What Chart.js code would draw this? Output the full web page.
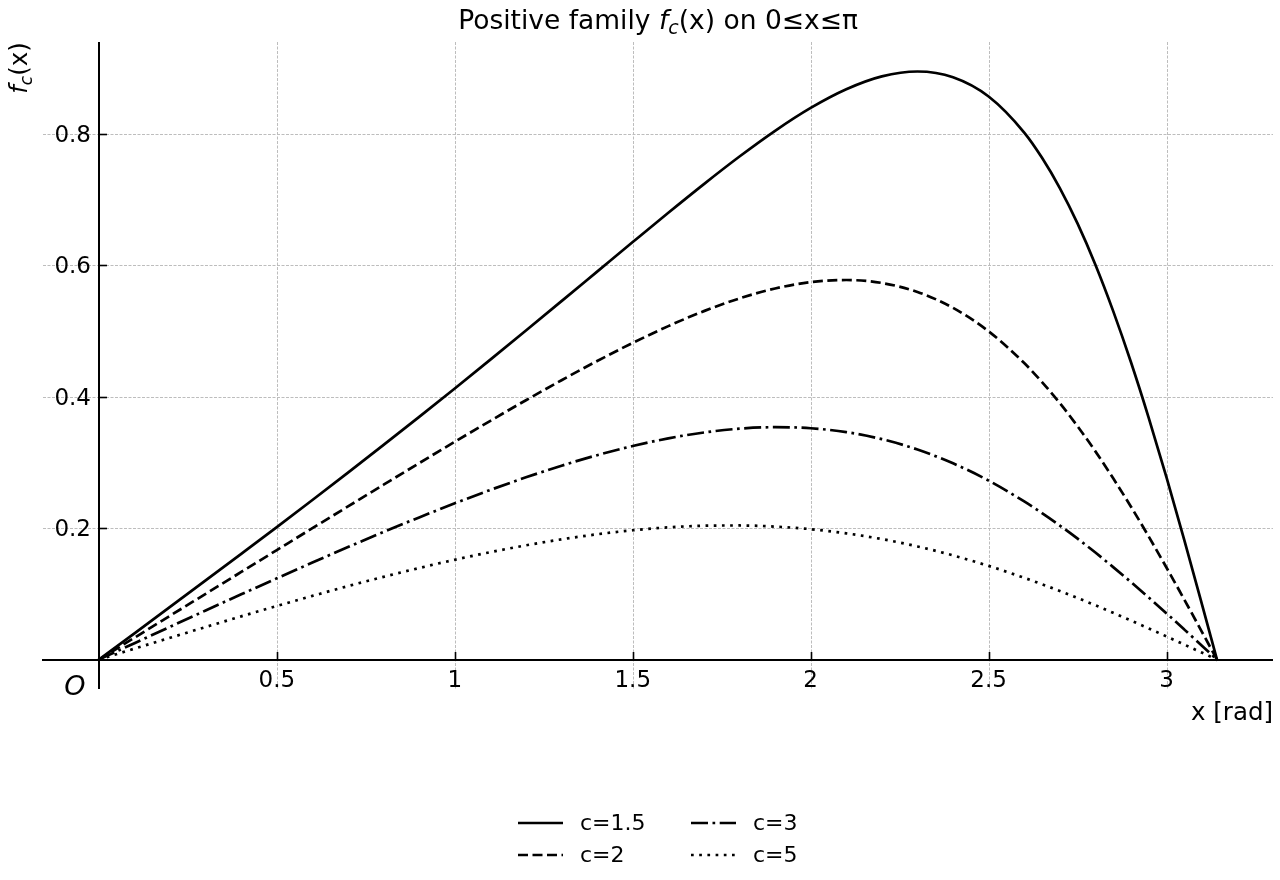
<!DOCTYPE html>
<html>
<head>
<meta charset="utf-8">
<script src="https://cdn.jsdelivr.net/npm/chart.js@4/dist/chart.umd.min.js"></script>
<style>
html,body{margin:0;padding:0;background:#fff;}
#wrap{width:1280px;height:880px;position:relative;}
</style>
</head>
<body>
<div id="wrap"><canvas id="c" width="1280" height="880"></canvas></div>
<script>
// ---- data ----
const xValues = [0,0.1,0.2,0.3,0.4,0.5,0.6,0.7,0.8,0.9,1.0,1.1,1.2,1.3,1.4,1.5,1.6,1.7,1.8,1.9,2.0,2.1,2.2,2.3,2.4,2.5,2.6,2.65,2.7,2.75,2.8,2.85,2.9,2.95,3.0,3.05,3.1,3.14159];
const seriesC15 = [0,0.0400,0.0801,0.1204,0.1609,0.2016,0.2428,0.2844,0.3266,0.3692,0.4124,0.4562,0.5005,0.5452,0.5901,0.6350,0.6796,0.7232,0.7651,0.8042,0.8390,0.8674,0.8870,0.8944,0.8857,0.8564,0.8016,0.7632,0.7172,0.6630,0.6006,0.5300,0.4522,0.3674,0.2767,0.1814,0.0830,0];
const seriesC2  = [0,0.0333,0.0667,0.1000,0.1333,0.1666,0.1999,0.2330,0.2660,0.2988,0.3313,0.3632,0.3945,0.4249,0.4541,0.4817,0.5072,0.5300,0.5493,0.5644,0.5741,0.5773,0.5728,0.5591,0.5350,0.4992,0.4510,0.4220,0.3900,0.3548,0.3167,0.2757,0.2325,0.1870,0.1397,0.0911,0.0415,0];
const seriesC3  = [0,0.0250,0.0499,0.0747,0.0993,0.1236,0.1476,0.1711,0.1941,0.2163,0.2377,0.2581,0.2772,0.2949,0.3109,0.3248,0.3365,0.3454,0.3512,0.3535,0.3519,0.3460,0.3353,0.3195,0.2985,0.2722,0.2405,0.2228,0.2039,0.1839,0.1628,0.1407,0.1179,0.0944,0.0702,0.0456,0.0208,0];
const seriesC5  = [0,0.0167,0.0332,0.0496,0.0658,0.0816,0.0969,0.1118,0.1259,0.1393,0.1519,0.1634,0.1738,0.1829,0.1906,0.1967,0.2011,0.2036,0.2040,0.2023,0.1984,0.1920,0.1833,0.1721,0.1585,0.1425,0.1244,0.1146,0.1043,0.0936,0.0826,0.0711,0.0594,0.0474,0.0352,0.0228,0.0104,0];
const seriesNames = ['c=1.5','c=2','c=3','c=5'];
const xTickValues = [0.5,1,1.5,2,2.5,3];
const xTickLabels = ['0.5','1','1.5','2','2.5','3'];
const yTickValues = [0.2,0.4,0.6,0.8];
const yTickLabels = ['0.2','0.4','0.6','0.8'];

// ---- styles ----
const LW = 2.7;
const dashes = [[], [10,4.5], [17,4.5,2.7,4.5], [2.7,5.5]];
const allSeries = [seriesC15, seriesC2, seriesC3, seriesC5];
const FONT = '"DejaVu Sans", sans-serif';

const datasets = allSeries.map((s, i) => ({
  label: seriesNames[i],
  data: xValues.map((x, k) => ({x: x, y: s[k]})),
  borderColor: '#000',
  backgroundColor: '#000',
  borderWidth: LW,
  borderDash: dashes[i],
  borderCapStyle: i === 0 ? 'square' : 'butt',
  borderJoinStyle: 'round',
  pointRadius: 0,
  showLine: true,
  fill: false,
  cubicInterpolationMode: 'monotone'
}));

function richWidth(ctx, parts) {
  let w = 0;
  for (const p of parts) { ctx.font = p.font; w += ctx.measureText(p.t).width; }
  return w;
}
function drawRich(ctx, parts, x, y) {
  let cx = x;
  for (const p of parts) {
    ctx.font = p.font;
    ctx.fillText(p.t, cx, y + (p.dy || 0));
    cx += ctx.measureText(p.t).width;
  }
}

const decor = {
  id: 'decor',
  beforeDatasetsDraw(chart) {
    const ctx = chart.ctx, xs = chart.scales.x, ys = chart.scales.y, a = chart.chartArea;
    ctx.save();
    ctx.strokeStyle = '#bdbdbd';
    ctx.lineWidth = 1;
    ctx.setLineDash([3, 1.5]);
    for (const v of xTickValues) {
      const px = Math.round(xs.getPixelForValue(v)) + 0.5;
      ctx.beginPath(); ctx.moveTo(px, a.top); ctx.lineTo(px, a.bottom); ctx.stroke();
    }
    for (const v of yTickValues) {
      const py = Math.round(ys.getPixelForValue(v)) + 0.5;
      ctx.beginPath(); ctx.moveTo(a.left, py); ctx.lineTo(a.right, py); ctx.stroke();
    }
    ctx.restore();
  },
  afterDatasetsDraw(chart) {
    const ctx = chart.ctx, xs = chart.scales.x, ys = chart.scales.y, a = chart.chartArea;
    const x0 = Math.round(xs.getPixelForValue(0));
    const y0 = Math.round(ys.getPixelForValue(0));
    ctx.save();
    ctx.setLineDash([]);
    ctx.strokeStyle = '#000';
    ctx.fillStyle = '#000';
    // spines
    ctx.lineWidth = 2;
    ctx.beginPath(); ctx.moveTo(x0, a.top); ctx.lineTo(x0, a.bottom); ctx.stroke();
    ctx.beginPath(); ctx.moveTo(a.left - 1, y0); ctx.lineTo(a.right, y0); ctx.stroke();
    // ticks (inward)
    ctx.lineWidth = 1.6;
    for (const v of xTickValues) {
      const px = Math.round(xs.getPixelForValue(v)) + 0.5;
      ctx.beginPath(); ctx.moveTo(px, y0); ctx.lineTo(px, y0 - 8); ctx.stroke();
    }
    for (const v of yTickValues) {
      const py = Math.round(ys.getPixelForValue(v)) + 0.5;
      ctx.beginPath(); ctx.moveTo(x0, py); ctx.lineTo(x0 + 8, py); ctx.stroke();
    }
    // tick labels
    ctx.font = '23px ' + FONT;
    ctx.textBaseline = 'alphabetic';
    ctx.textAlign = 'center';
    xTickValues.forEach((v, i) => {
      ctx.fillText(xTickLabels[i], xs.getPixelForValue(v), y0 + 27);
    });
    ctx.textAlign = 'right';
    yTickValues.forEach((v, i) => {
      ctx.fillText(yTickLabels[i], x0 - 8, ys.getPixelForValue(v) + 8);
    });
    // origin label
    ctx.textAlign = 'center';
    ctx.font = 'italic 27px ' + FONT;
    ctx.fillText('O', x0 - 24, y0 + 35);
    // x label
    ctx.textAlign = 'right';
    ctx.font = '24.5px ' + FONT;
    ctx.fillText('x [rad]', a.right, y0 + 60);
    // y label (rotated)
    ctx.textAlign = 'left';
    const yl = [
      {t: 'f', font: 'italic 24.5px ' + FONT},
      {t: 'c', font: 'italic 17px ' + FONT, dy: 5},
      {t: '(x)', font: '24.5px ' + FONT}
    ];
    ctx.save();
    ctx.translate(27, 68);
    ctx.rotate(-Math.PI / 2);
    const ylw = richWidth(ctx, yl);
    drawRich(ctx, yl, -ylw / 2, 0);
    ctx.restore();
    // title
    const tp = [
      {t: 'Positive family ', font: '26.5px ' + FONT},
      {t: 'f', font: 'italic 26.5px ' + FONT},
      {t: 'c', font: 'italic 19px ' + FONT, dy: 5},
      {t: '(x) on 0≤x≤π', font: '26.5px ' + FONT}
    ];
    const tw = richWidth(ctx, tp);
    drawRich(ctx, tp, (a.left + a.right) / 2 - tw / 2, 29);
    // legend (2 columns, column-major)
    const legPos = [[518, 823], [518, 855], [691, 823], [691, 855]];
    ctx.font = '22px ' + FONT;
    ctx.textBaseline = 'middle';
    ctx.textAlign = 'left';
    seriesNames.forEach((name, i) => {
      const [lx, ly] = legPos[i];
      ctx.lineWidth = LW;
      ctx.setLineDash(dashes[i]);
      ctx.lineCap = 'butt';
      ctx.beginPath(); ctx.moveTo(lx, ly); ctx.lineTo(lx + 45, ly); ctx.stroke();
      ctx.setLineDash([]);
      ctx.fillText(name, lx + 62, ly + 1);
    });
    ctx.restore();
  }
};

new Chart(document.getElementById('c'), {
  type: 'scatter',
  data: { datasets: datasets },
  options: {
    responsive: false,
    animation: false,
    devicePixelRatio: 1,
    layout: { padding: { left: 43, top: 42, right: 7, bottom: 191 } },
    plugins: { legend: { display: false }, title: { display: false }, tooltip: { enabled: false } },
    scales: {
      x: { type: 'linear', min: -0.157, max: 3.299, display: false },
      y: { type: 'linear', min: -0.0447, max: 0.9393, display: false }
    }
  },
  plugins: [decor]
});
</script>
</body>
</html>
